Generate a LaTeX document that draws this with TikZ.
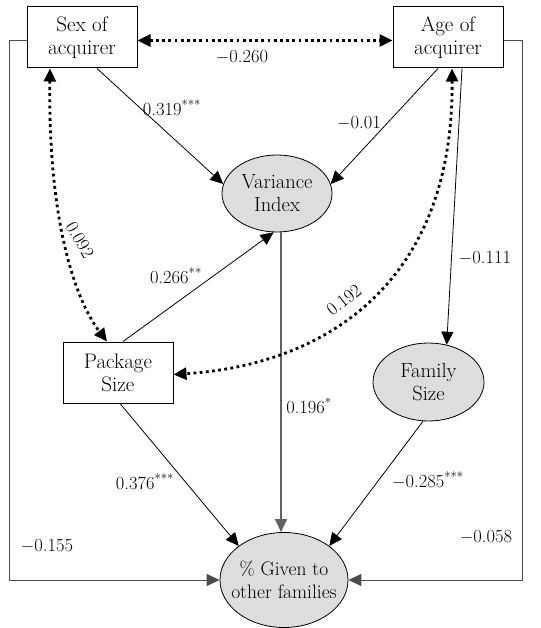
\documentclass[tikz,border=0pt]{standalone}
\usetikzlibrary{arrows.meta,shapes.geometric,calc}
\begin{document}
\begin{tikzpicture}[x=1pt,y=-1pt,
  tip/.style={-{Triangle[length=13pt,width=12pt]}},
  bitip/.style={{Triangle[length=13pt,width=12pt]}-{Triangle[length=13pt,width=12pt]}},
  boxnode/.style={draw,line width=1pt,minimum width=110pt,minimum height=61pt,inner sep=0pt,align=center,font=\fontsize{21}{23}\selectfont},
  ellnode/.style={ellipse,draw,line width=0.8pt,fill=gray!27,inner sep=0pt,align=center,font=\fontsize{20.5}{23}\selectfont},
  path/.style={line width=0.8pt,tip},
  graypath/.style={line width=1.4pt,draw=black!62,tip},
  fbpath/.style={line width=1pt,draw=black!70,tip},
  dotpath/.style={line width=2.8pt,dash pattern=on 2.8pt off 3.4pt,bitip},
  lab/.style={font=\fontsize{18.5}{20}\selectfont,inner sep=0pt}
]
\useasboundingbox (0,0) rectangle (540,628);

\node[boxnode] (sex) at (82,37.5) {Sex of\\acquirer};
\node[boxnode] (age) at (448,37.5) {Age of\\acquirer};
\node[boxnode] (pkg) at (118,372.5) {Package\\Size};
\node[ellnode,minimum width=110pt,minimum height=77pt] (var) at (277,193.5) {Variance\\Index};
\node[ellnode,minimum width=111pt,minimum height=78pt] (fam) at (428.5,382) {Family\\Size};
\node[ellnode,minimum width=128pt,minimum height=95pt,inner sep=-10pt,font=\fontsize{19.5}{23}\selectfont] (giv) at (284,580) {\% Given to\\other families};

% top correlation
\draw[dotpath] ([yshift=-3pt]sex.east) -- ([yshift=-3pt]age.east -| age.west);

% feedback lines
\draw[fbpath] ([yshift=-3pt]sex.west) -- ++(-17,0) |- (giv.west);
\draw[fbpath] ([yshift=-3pt]age.east) -- ++(19,0) |- (giv.east);

% paths
\draw[path] ([xshift=15pt]sex.south) -- (var.170);
\draw[path] ([xshift=-10pt]age.south) -- (var.10);
\draw[path] ([xshift=5pt]pkg.north) -- (var.265);
\draw[path] ([xshift=14pt]age.south) -- (fam.64);
\draw[path] ([xshift=2pt]pkg.south) -- (giv.143);
\draw[path] (fam.262) -- (giv.37);
\draw[graypath] ([xshift=4pt]var.south) -- ([xshift=4pt]var.south |- giv.north);

% curved correlations
\draw[dotpath] ([xshift=-32pt]sex.south) .. controls +(-2,152) and +(-32,-42) .. ([xshift=-11pt]pkg.north);
\draw[dotpath] ([xshift=4pt]age.south) .. controls +(2,212) and +(155,-10) .. ([yshift=-2pt]pkg.east);

% labels
\node[lab] (l1) at (242,57) {$-$0.260};
\node[lab] (l2) at (172,108) {0.319\textsuperscript{***}};
\node[lab] (l3) at (359,123) {$-$0.01};
\node[lab] (l4) at (485,258) {$-$0.111};
\node[lab,rotate=-60] (l5) at (80,240) {0.092};
\node[lab] (l6) at (176,276) {0.266\textsuperscript{**}};
\node[lab,rotate=38] (l7) at (344,300) {0.192};
\node[lab] (l8) at (309,406) {0.196\textsuperscript{*}};
\node[lab] (l9) at (145,482) {0.376\textsuperscript{***}};
\node[lab] (l10) at (428,480) {$-$0.285\textsuperscript{***}};
\node[lab] (l11) at (47,546) {$-$0.155};
\node[lab] (l12) at (486,537) {$-$0.058};
\end{tikzpicture}
\end{document}
